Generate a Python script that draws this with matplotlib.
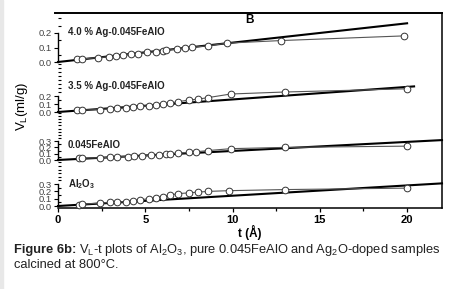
import numpy as np
import matplotlib
matplotlib.use('Agg')
import matplotlib.pyplot as plt
from matplotlib.ticker import MultipleLocator
from matplotlib.lines import Line2D

plt.rcParams['font.family'] = ['Liberation Sans', 'DejaVu Sans']
plt.rcParams['mathtext.fontset'] = 'custom'
plt.rcParams['mathtext.rm'] = 'Liberation Sans'
plt.rcParams['mathtext.bf'] = 'Liberation Sans:bold'
plt.rcParams['mathtext.it'] = 'Liberation Sans:italic'

# data (t in angstrom, V_L in ml/g)
t_ag40 = [1.1, 1.4, 2.3, 2.9, 3.3, 3.75, 4.2, 4.6, 5.1, 5.6, 6.0, 6.2, 6.8, 7.3, 7.7, 8.6, 9.7, 12.8, 19.8]
v_ag40 = [0.018, 0.022, 0.03, 0.036, 0.042, 0.047, 0.053, 0.058, 0.066, 0.072, 0.078, 0.082,
          0.088, 0.096, 0.102, 0.112, 0.13, 0.148, 0.18]
t_ag35 = [1.1, 1.4, 2.4, 3.0, 3.4, 3.9, 4.3, 4.7, 5.2, 5.6, 6.0, 6.4, 6.9, 7.5, 8.0, 8.6, 9.9, 13.0, 20.0]
v_ag35 = [0.02, 0.025, 0.03, 0.04, 0.045, 0.05, 0.06, 0.07, 0.08, 0.09, 0.1, 0.11,
          0.13, 0.15, 0.16, 0.18, 0.225, 0.25, 0.29]
t_fe = [1.2, 1.4, 2.4, 3.0, 3.4, 4.0, 4.35, 4.8, 5.35, 5.8, 6.2, 6.4, 6.9, 7.5, 7.9, 8.6, 9.9, 13.0, 20.0]
v_fe = [0.03, 0.03, 0.035, 0.045, 0.05, 0.055, 0.06, 0.065, 0.075, 0.085, 0.09, 0.1,
        0.11, 0.12, 0.13, 0.15, 0.18, 0.2, 0.22]
t_al = [1.2, 1.4, 2.4, 3.0, 3.4, 3.9, 4.3, 4.7, 5.2, 5.6, 6.0, 6.4, 6.9, 7.5, 8.0, 8.6, 9.8, 13.0, 20.0]
v_al = [0.02, 0.025, 0.04, 0.05, 0.055, 0.06, 0.07, 0.085, 0.1, 0.11, 0.13, 0.15,
        0.17, 0.18, 0.19, 0.2, 0.21, 0.225, 0.245]

# straight reference lines (t range, end value)
ref_t = [[0, 20.0], [0, 20.4], [0, 22.0], [0, 22.0]]
ref_v = [[0, 0.267], [0, 0.32], [0, 0.316], [0, 0.31]]

labels = ['4.0 % Ag-0.045FeAlO', '3.5 % Ag-0.045FeAlO', '0.045FeAlO', r'Al$_\mathbf{2}$O$_\mathbf{3}$']
tick_tops = [0.2, 0.2, 0.3, 0.3]

W, H = 451, 289
fig = plt.figure(figsize=(W / 100, H / 100), dpi=100)

def fx(x):
    return x / W

def fy(y):
    return 1 - y / H

x_left, x_right = 58, 442
frame_top, frame_bot = 13, 208

# outer frame + x axis
axf = fig.add_axes([fx(x_left), fy(frame_bot), fx(x_right - x_left), (frame_bot - frame_top) / H])
axf.set_xlim(0, 22)
axf.set_ylim(0, 1)
axf.spines['left'].set_visible(False)
axf.spines['top'].set_visible(False)
axf.spines['right'].set_visible(False)
axf.spines['bottom'].set_linewidth(1.1)
axf.set_yticks([])
axf.set_xticks([0, 5, 10, 15, 20])
axf.xaxis.set_minor_locator(MultipleLocator(2.5))
axf.tick_params(axis='x', which='major', direction='out', length=3, width=0.9, labelsize=8, pad=2)
axf.tick_params(axis='x', which='minor', direction='out', length=2.5, width=0.9)
for lab in axf.get_xticklabels():
    lab.set_fontweight('bold')
axf.set_xlabel('t (Å)', fontsize=8.5, fontweight='bold', labelpad=0)
axf.patch.set_alpha(0)

# top and right frame lines
fig.add_artist(Line2D([fx(55), fx(x_right)], [fy(frame_top), fy(frame_top)], color='black', lw=1.4))
fig.add_artist(Line2D([fx(x_right), fx(x_right)], [fy(frame_top), fy(frame_bot)], color='black', lw=1.1))

# panels: pixel row of zero, pixels per 1.0 unit
zeros = [62, 112, 160, 206]
scales = [145, 80, 63, 73]
label_rows = [32, 86, 145, 184]

series = [(t_ag40, v_ag40), (t_ag35, v_ag35), (t_fe, v_fe), (t_al, v_al)]

for i in range(4):
    z, s = zeros[i], scales[i]
    top_px, bot_px = z - 48, z + 2
    ax = fig.add_axes([fx(x_left), fy(bot_px), fx(x_right - x_left), (bot_px - top_px) / H])
    ax.set_xlim(0, 22)
    ax.set_ylim(-2 / s, 48 / s)
    ax.patch.set_alpha(0)
    for sp in ['top', 'right', 'bottom']:
        ax.spines[sp].set_visible(False)
    ax.spines['left'].set_bounds(0, tick_tops[i])
    ax.spines['left'].set_linewidth(1.0)
    ax.set_xticks([])
    ticks = np.round(np.arange(0, tick_tops[i] + 0.01, 0.1), 1)
    ax.set_yticks(ticks)
    ax.yaxis.set_minor_locator(MultipleLocator(0.05))
    ax.set_yticklabels(['%.1f' % v for v in ticks])
    ax.tick_params(axis='y', which='major', direction='out', length=3, width=0.8,
                   labelsize=6.8, labelcolor='#444', pad=1.5)
    ax.tick_params(axis='y', which='minor', direction='in', length=2, width=0.8)

    tt, vv = series[i]
    ax.plot(ref_t[i], ref_v[i], color='black', lw=1.5, clip_on=False, zorder=2)
    ax.plot(tt, vv, color='#555555', lw=0.8, marker='o', ms=4.8, mfc='white',
            mec='#333333', mew=0.7, clip_on=False, zorder=3)
    fig.text(fx(68), fy(label_rows[i]), labels[i], fontsize=7, fontweight='bold',
             ha='left', va='center', color='#222222')

fig.text(fx(250), fy(20), 'B', fontsize=8.5, fontweight='bold', ha='center', va='center')
fig.text(fx(22), fy(106), r'V$_\mathrm{L}$(ml/g)', fontsize=9.5, rotation=90,
         ha='center', va='center')

# caption: bold lead-in, then the rest placed after it
fs = 9.3
cap_y1, cap_y2 = 250, 265
lead = fig.text(fx(14), fy(cap_y1), 'Figure 6b:', fontsize=fs, fontweight='bold',
                ha='left', va='center', color='#222222')
r = fig.canvas.get_renderer()
bb = lead.get_window_extent(renderer=r)
fig.text(bb.x1 / W + 3 / W, fy(cap_y1),
         r'V$_\mathrm{L}$-t plots of Al$_2$O$_3$, pure 0.045FeAlO and Ag$_2$O-doped samples',
         fontsize=fs, ha='left', va='center', color='#222222')
fig.text(fx(14), fy(cap_y2), 'calcined at 800°C.', fontsize=fs, ha='left', va='center', color='#222222')

# light edge on the left
fig.patches.append(plt.Rectangle((0, 0), 2.5 / W, 1, transform=fig.transFigure,
                                 color='#e8e8e8', zorder=0))

fig.savefig('out.png', dpi=100)
